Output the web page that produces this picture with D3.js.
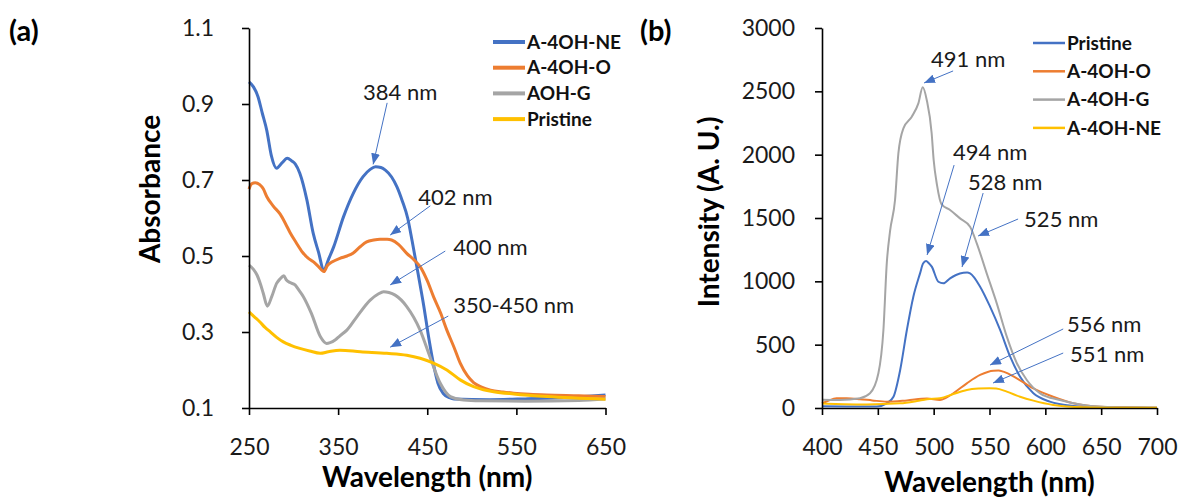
<!DOCTYPE html>
<html>
<head>
<meta charset="utf-8">
<script src="https://cdn.jsdelivr.net/npm/d3@7"></script>
<style>
  body { margin: 0; background: #fff; }
  svg { display: block; font-family: Lato, 'Open Sans', sans-serif; }
</style>
</head>
<body>
<script>
// ---- panel (a): UV-vis absorbance, [wavelength nm, absorbance] ----
const absNames = ['A-4OH-NE', 'A-4OH-O', 'AOH-G', 'Pristine'];
const absNE = [[250,0.958],[255,0.945],[260,0.92],[265,0.875],[270,0.83],[275,0.765],[281,0.731],[287,0.745],[293,0.757],[298,0.75],[302,0.742],[307,0.718],[315,0.647],[322,0.56],[328,0.51],[334,0.463],[339,0.49],[345,0.524],[356,0.603],[367,0.665],[378,0.709],[386,0.728],[392,0.735],[398,0.733],[403,0.726],[410,0.708],[416,0.682],[422,0.645],[428,0.6],[433,0.54],[440,0.45],[446,0.37],[452,0.28],[457,0.215],[462,0.165],[468,0.138],[475,0.127],[480,0.124],[520,0.122],[560,0.124],[600,0.127],[650,0.134]];
const absO = [[250,0.676],[253,0.69],[257,0.693],[262,0.688],[266,0.677],[270,0.656],[277,0.632],[285,0.61],[291,0.585],[296,0.562],[303,0.535],[310,0.51],[316,0.495],[322,0.485],[328,0.472],[334,0.459],[338,0.475],[343,0.484],[352,0.494],[360,0.5],[367,0.508],[375,0.525],[382,0.537],[390,0.542],[397,0.544],[405,0.544],[410,0.542],[418,0.53],[427,0.507],[435,0.49],[442,0.472],[450,0.435],[457,0.393],[465,0.35],[472,0.305],[480,0.26],[487,0.218],[495,0.185],[502,0.167],[511,0.155],[521,0.147],[535,0.142],[547,0.139],[565,0.136],[584,0.134],[620,0.132],[650,0.13]];
const absG = [[250,0.476],[255,0.465],[259,0.45],[263,0.425],[266,0.402],[270.6,0.368],[275.5,0.393],[281,0.428],[285,0.44],[289,0.448],[292,0.437],[296,0.43],[301.7,0.424],[306,0.41],[311,0.393],[320,0.349],[330,0.288],[337,0.27],[341,0.272],[346.6,0.279],[352,0.29],[359.8,0.305],[371,0.34],[386,0.384],[395,0.4],[401,0.406],[407,0.404],[414,0.397],[427,0.367],[442,0.305],[453,0.235],[464.6,0.165],[476,0.13],[490.8,0.121],[509.5,0.119],[560,0.118],[620,0.12],[650,0.124]];
const absP = [[250,0.353],[256,0.34],[262,0.327],[268,0.312],[273.6,0.301],[281,0.286],[288.5,0.274],[297,0.265],[307,0.257],[318,0.25],[330,0.244],[339,0.248],[352,0.252],[375,0.248],[404.7,0.244],[427,0.239],[442,0.231],[457,0.218],[472,0.2],[487,0.174],[502,0.156],[513,0.148],[524.5,0.143],[547,0.137],[584.5,0.13],[650,0.123]];
const absXTicks = [250, 350, 450, 550, 650];
const absYTicks = [0.1, 0.3, 0.5, 0.7, 0.9, 1.1];
// labels in data units: text anchor, arrow start, arrow tip
const absNotes = [
  { text: '384 nm', tx: 378, ty: 0.911, x1: 405, y1: 0.903, x2: 389.3, y2: 0.741 },
  { text: '402 nm', tx: 440, ty: 0.634, x1: 453.4, y1: 0.632, x2: 408.4, y2: 0.555 },
  { text: '400 nm', tx: 479.2, ty: 0.503, x1: 470.2, y1: 0.513, x2: 408.4, y2: 0.424 },
  { text: '350-450 nm', tx: 479.2, ty: 0.35, x1: 473.6, y1: 0.342, x2: 408.4, y2: 0.26 }
];

// ---- panel (b): photoluminescence, [wavelength nm, intensity] ----
const plNames = ['Pristine', 'A-4OH-O', 'A-4OH-G', 'A-4OH-NE'];
const plP = [[400,14],[430,12],[449,12],[458,37],[464,89],[470,300],[476,616],[481.8,879],[487.8,1063],[490.5,1140],[493.2,1160],[495.5,1145],[498.3,1116],[504.2,997],[508.7,984],[514.7,1024],[520,1050],[526.6,1068],[530,1070],[532.6,1063],[541.6,958],[550.5,800],[559.5,616],[568.5,405],[577.4,247],[589.3,116],[604,50],[625,16],[650,5],[700,2]];
const plO = [[400,37],[405,55],[413,77],[422,77],[434,70],[445,60],[458,50],[476,60],[494,75],[505.7,63],[511,80],[517.6,116],[529.7,195],[541.6,261],[553.5,295],[558,296],[562.4,287],[574.5,234],[589.3,155],[607,89],[625,37],[649,10],[700,2]];
const plG = [[400,65],[416,63],[434,77],[443,116],[450.5,274],[455,616],[458,1142],[461,1400],[465.4,1642],[468.4,2011],[472.9,2208],[480.4,2300],[486.3,2405],[490.2,2532],[493.8,2432],[498.2,2169],[500,1958],[503,1760],[507,1610],[514.7,1563],[523.6,1497],[532.6,1431],[538.6,1300],[547.5,1063],[556.5,826],[565.5,563],[574.5,353],[583.4,221],[595.3,116],[613,63],[634,24],[664,5],[700,2]];
const plNE = [[400,35],[420,30],[440,28],[470,37],[485,55],[494,69],[505.7,77],[517.6,110],[529.7,142],[540,153],[550,156],[556,154],[565.5,129],[577.4,89],[589.3,58],[607,24],[634,6],[665,2],[700,1]];
const plXTicks = [400, 450, 500, 550, 600, 650, 700];
const plYTicks = [0, 500, 1000, 1500, 2000, 2500, 3000];
const plNotes = [
  { text: '491 nm', tx: 497.7, ty: 2692, x1: 517.4, y1: 2661, x2: 491.4, y2: 2566 },
  { text: '494 nm', tx: 517.4, ty: 1958, x1: 518.3, y1: 1918, x2: 494.1, y2: 1208 },
  { text: '528 nm', tx: 530.8, ty: 1721, x1: 544.3, y1: 1697, x2: 525.4, y2: 1113 },
  { text: '525 nm', tx: 581, ty: 1429, x1: 575.6, y1: 1492, x2: 539.8, y2: 1358 },
  { text: '556 nm', tx: 619.5, ty: 600, x1: 616, y1: 624, x2: 550.5, y2: 339 },
  { text: '551 nm', tx: 622.2, ty: 363, x1: 616, y1: 434, x2: 553.2, y2: 197 }
];

const colors = { blue: '#4472C4', orange: '#ED7D31', gray: '#A5A5A5', yellow: '#FFC000' };

const W = 1183, H = 503;
const svg = d3.select('body').append('svg').attr('width', W).attr('height', H);

// arrow head for the peak labels
svg.append('defs').append('marker')
  .attr('id', 'head')
  .attr('markerUnits', 'userSpaceOnUse')
  .attr('viewBox', '0 0 10 8')
  .attr('refX', 10).attr('refY', 4)
  .attr('markerWidth', 11).attr('markerHeight', 9)
  .attr('orient', 'auto')
  .append('path').attr('d', 'M0,0 L10,4 L0,8 Z').attr('fill', colors.blue);

function drawPanel(cfg) {
  const g = svg.append('g');
  const x = d3.scaleLinear().domain(cfg.xDomain).range(cfg.xRange);
  const y = d3.scaleLinear().domain(cfg.yDomain).range(cfg.yRange);

  const line = d3.line()
    .x(d => x(d[0]))
    .y(d => y(d[1]))
    .curve(d3.curveMonotoneX);

  cfg.series.forEach(s => {
    g.append('path')
      .datum(s.data)
      .attr('d', line)
      .attr('fill', 'none')
      .attr('stroke', s.color)
      .attr('stroke-width', cfg.lineWidth)
      .attr('stroke-linejoin', 'round');
  });

  // axes
  const xAxis = d3.axisBottom(x).tickValues(cfg.xTicks).tickSize(7).tickSizeOuter(0).tickPadding(24);
  const yAxis = d3.axisLeft(y).tickValues(cfg.yTicks).tickSize(7).tickSizeOuter(0)
    .tickPadding(cfg.yPad).tickFormat(cfg.yFormat);

  const gx = g.append('g').attr('transform', `translate(0,${cfg.yRange[0]})`).call(xAxis);
  const gy = g.append('g').attr('transform', `translate(${cfg.xRange[0]},0)`).call(yAxis);
  [gx, gy].forEach(a => {
    a.selectAll('path, line').attr('stroke', '#000').attr('stroke-width', 1.6);
    a.selectAll('text').attr('font-size', 23).attr('fill', '#1a1a1a').attr('font-family', 'Lato, sans-serif');
  });

  // axis titles
  g.append('text')
    .attr('x', (cfg.xRange[0] + cfg.xRange[1]) / 2)
    .attr('y', cfg.xTitleY)
    .attr('text-anchor', 'middle')
    .attr('font-size', 28).attr('font-weight', 'bold')
    .text('Wavelength (nm)');

  g.append('text')
    .attr('transform', `translate(${cfg.yTitleX},${cfg.yTitleC}) rotate(-90)`)
    .attr('text-anchor', 'middle')
    .attr('font-size', 28).attr('font-weight', 'bold')
    .text(cfg.yTitle);

  // panel letter
  g.append('text')
    .attr('x', cfg.tag.x).attr('y', 41)
    .attr('font-size', 29).attr('font-weight', 'bold')
    .text(cfg.tag.text);

  // legend
  const leg = g.append('g').attr('transform', `translate(${cfg.legend.x},${cfg.legend.y})`);
  cfg.series.forEach((s, i) => {
    const row = leg.append('g').attr('transform', `translate(0,${i * cfg.legend.step})`);
    row.append('line').attr('x1', 0).attr('x2', 32).attr('y1', 0).attr('y2', 0)
      .attr('stroke', s.color).attr('stroke-width', cfg.legend.width);
    row.append('text').attr('x', 34).attr('y', 0).attr('dy', '0.35em')
      .attr('font-size', 19).attr('font-weight', 'bold').attr('fill', '#111')
      .text(s.name);
  });

  // peak labels
  cfg.notes.forEach(n => {
    g.append('line')
      .attr('x1', x(n.x1)).attr('y1', y(n.y1))
      .attr('x2', x(n.x2)).attr('y2', y(n.y2))
      .attr('stroke', colors.blue).attr('stroke-width', 1)
      .attr('marker-end', 'url(#head)');
    g.append('text')
      .attr('x', x(n.tx)).attr('y', y(n.ty))
      .attr('font-size', 22).attr('fill', '#1a1a1a')
      .text(n.text);
  });
}

drawPanel({
  xDomain: [250, 650], xRange: [249, 605.5],
  yDomain: [0.1, 1.1], yRange: [408, 28],
  xTicks: absXTicks, yTicks: absYTicks, yFormat: d3.format('.1f'), yPad: 28,
  lineWidth: 3,
  series: [
    { name: absNames[0], data: absNE, color: colors.blue },
    { name: absNames[1], data: absO, color: colors.orange },
    { name: absNames[2], data: absG, color: colors.gray },
    { name: absNames[3], data: absP, color: colors.yellow }
  ],
  yTitle: 'Absorbance', yTitleX: 160, yTitleC: 189, xTitleY: 487,
  tag: { text: '(a)', x: 9 },
  legend: { x: 493, y: 42, step: 25.7, width: 4 },
  notes: absNotes
});

drawPanel({
  xDomain: [400, 700], xRange: [822, 1157],
  yDomain: [0, 3000], yRange: [408, 28],
  xTicks: plXTicks, yTicks: plYTicks, yFormat: d3.format('d'), yPad: 20,
  lineWidth: 2,
  series: [
    { name: plNames[0], data: plP, color: colors.blue },
    { name: plNames[1], data: plO, color: colors.orange },
    { name: plNames[2], data: plG, color: colors.gray },
    { name: plNames[3], data: plNE, color: colors.yellow }
  ],
  yTitle: 'Intensity (A. U.)', yTitleX: 719, yTitleC: 212, xTitleY: 492,
  tag: { text: '(b)', x: 640 },
  legend: { x: 1033, y: 43, step: 28.3, width: 2.5 },
  notes: plNotes
});
</script>
</body>
</html>
